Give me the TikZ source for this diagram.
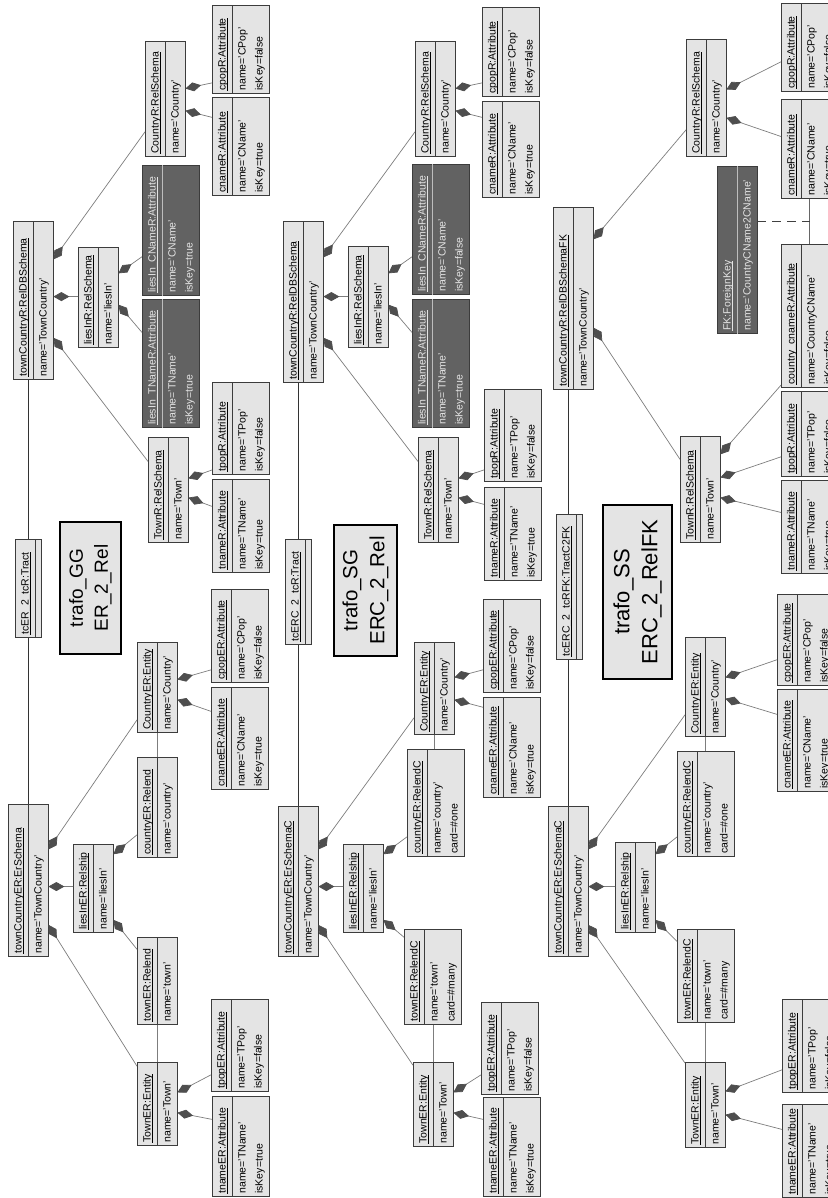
\documentclass[tikz,border=0pt]{standalone}
\usepackage{fontspec}
\setmainfont{Liberation Sans}
\usetikzlibrary{arrows.meta,calc,shapes.multipart}
\definecolor{objfill}{RGB}{228,228,228}
\definecolor{objline}{RGB}{60,60,60}
\definecolor{linkgray}{RGB}{125,125,125}
\definecolor{diagray}{RGB}{78,78,78}
\definecolor{keyfill}{RGB}{98,98,98}
\definecolor{keytext}{RGB}{228,228,228}
\newcommand\objfont{\fontsize{10.5pt}{17pt}\selectfont}
\newcommand\hd[1]{\strut\underline{\smash{#1}}}
\newcommand\av[1]{\strut#1}
\tikzset{
  obj/.style={draw=objline, fill=objfill, line width=0.8pt, rectangle split, rectangle split parts=2,
    rectangle split part align=left, align=left, inner xsep=3pt, inner ysep=1pt, font=\objfont,
    anchor=north west},
  keyobj/.style={obj, fill=keyfill, text=keytext, rectangle split draw splits=false},
  keysplit/.style={draw=keytext!70!keyfill, line width=0.8pt},
  trafo/.style={draw=black, fill=objfill, line width=2pt, align=center, anchor=north west, inner sep=0pt},
  comp/.style={draw=linkgray, line width=0.7pt, {Diamond[length=16pt,width=9pt,color=diagray]}-},
  link/.style={draw=linkgray, line width=0.7pt},
  tractline/.style={draw=black!80, line width=0.9pt},
  fkline/.style={draw=black!75, line width=0.8pt, dash pattern=on 9pt off 6pt}
}

\begin{document}
\begin{tikzpicture}[x=1pt,y=1pt]
\useasboundingbox (0,0) rectangle (827,1198);
\begin{scope}[rotate=90, transform shape]
    % trafo_GG
    \node[obj, minimum width=152pt] (erGG) at (241,-8) {\hd{townCountryER:ErSchema}\nodepart{two}\av{name='TownCountry'}};
    \node[obj, minimum width=88pt] (liesGG) at (265,-73) {\hd{liesInER:Relship}\nodepart{two}\av{name='liesIn'}};
    \node[obj, minimum width=100pt] (crelGG) at (340,-137) {\hd{countryER:Relend}\nodepart{two}\av{name='country'}};
    \node[obj, minimum width=87pt] (trelGG) at (173,-137) {\hd{townER:Relend}\nodepart{two}\av{name='town'}};
    \node[obj, minimum width=83pt] (tentGG) at (52,-137) {\hd{TownER:Entity}\nodepart{two}\av{name='Town'}};
    \node[obj, minimum width=90pt] (centGG) at (465,-137) {\hd{CountryER:Entity}\nodepart{two}\av{name='Country'}};
    \node[obj, minimum width=100pt] (tnameerGG) at (1,-212) {\hd{tnameER:Attribute}\nodepart{two}\av{name='TName'}\\\av{isKey=true}};
    \node[obj, minimum width=92pt] (tpoperGG) at (106,-211) {\hd{tpopER:Attribute}\nodepart{two}\av{name='TPop'}\\\av{isKey=false}};
    \node[obj, minimum width=102pt] (cnameerGG) at (408,-211) {\hd{cnameER:Attribute}\nodepart{two}\av{name='CName'}\\\av{isKey=true}};
    \node[obj, minimum width=93pt] (cpoperGG) at (515,-211) {\hd{cpopER:Attribute}\nodepart{two}\av{name='CPop'}\\\av{isKey=false}};
    \node[obj, minimum width=98pt] (tractGG) at (560,-15) {\hd{tcER\_2\_tcR:Tract}\nodepart{two}\rule{0pt}{3pt}};
    \node[trafo, minimum width=132pt, minimum height=61pt, font=\fontsize{19pt}{25pt}\selectfont] (titleGG) at (543,-59) {trafo\_GG\\ER\_2\_Rel};
    \node[obj, minimum width=158pt] (relGG) at (818,-13) {\hd{townCountryR:RelDBSchema}\nodepart{two}\av{name='TownCountry'}};
    \node[obj, minimum width=100pt] (liesrGG) at (850,-78) {\hd{liesInR:RelSchema}\nodepart{two}\av{name='liesIn'}};
    \node[keyobj, minimum width=128pt] (tnkGG) at (770,-142) {\hd{liesIn\_TNameR:Attribute}\nodepart{two}\av{name='TName'}\\\av{isKey=true}};
    \node[keyobj, minimum width=130pt] (cnkGG) at (902,-142) {\hd{liesIn\_CNameR:Attribute}\nodepart{two}\av{name='CName'}\\\av{isKey=true}};
    \node[obj, minimum width=115pt] (crsGG) at (1041,-145) {\hd{CountryR:RelSchema}\nodepart{two}\av{name='Country'}};
    \node[obj, minimum width=105pt] (trsGG) at (655,-148) {\hd{TownR:RelSchema}\nodepart{two}\av{name='Town'}};
    \node[obj, minimum width=93pt] (tnamerGG) at (625,-212) {\hd{tnameR:Attribute}\nodepart{two}\av{name='TName'}\\\av{isKey=true}};
    \node[obj, minimum width=92pt] (tpoprGG) at (723,-212) {\hd{tpopR:Attribute}\nodepart{two}\av{name='TPop'}\\\av{isKey=false}};
    \node[obj, minimum width=98pt] (cnamerGG) at (1002,-212) {\hd{cnameR:Attribute}\nodepart{two}\av{name='CName'}\\\av{isKey=true}};
    \node[obj, minimum width=88pt] (cpoprGG) at (1104,-212) {\hd{cpopR:Attribute}\nodepart{two}\av{name='CPop'}\\\av{isKey=false}};

    % trafo_SG
    \node[obj, minimum width=150pt] (erSG) at (241,-278) {\hd{townCountryER:ErSchemaC}\nodepart{two}\av{name='TownCountry'}};
    \node[obj, minimum width=88pt] (liesSG) at (265,-343) {\hd{liesInER:Relship}\nodepart{two}\av{name='liesIn'}};
    \node[obj, minimum width=107pt] (crelSG) at (341,-407) {\hd{countryER:RelendC}\nodepart{two}\av{name='country'}\\\av{card=\#one}};
    \node[obj, minimum width=95pt] (trelSG) at (173,-404) {\hd{townER:RelendC}\nodepart{two}\av{name='town'}\\\av{card=\#many}};
    \node[obj, minimum width=84pt] (tentSG) at (51,-413) {\hd{TownER:Entity}\nodepart{two}\av{name='Town'}};
    \node[obj, minimum width=92pt] (centSG) at (463,-414) {\hd{CountryER:Entity}\nodepart{two}\av{name='Country'}};
    \node[obj, minimum width=99pt] (tnameerSG) at (1,-483) {\hd{tnameER:Attribute}\nodepart{two}\av{name='TName'}\\\av{isKey=true}};
    \node[obj, minimum width=92pt] (tpoperSG) at (103,-481) {\hd{tpopER:Attribute}\nodepart{two}\av{name='TPop'}\\\av{isKey=false}};
    \node[obj, minimum width=100pt] (cnameerSG) at (400,-483) {\hd{cnameER:Attribute}\nodepart{two}\av{name='CName'}\\\av{isKey=true}};
    \node[obj, minimum width=93pt] (cpoperSG) at (505,-483) {\hd{cpopER:Attribute}\nodepart{two}\av{name='CPop'}\\\av{isKey=false}};
    \node[obj, minimum width=105pt] (tractSG) at (553,-285) {\hd{tcERC\_2\_tcR:Tract}\nodepart{two}\rule{0pt}{3pt}};
    \node[trafo, minimum width=131pt, minimum height=63pt, font=\fontsize{20.5pt}{27pt}\selectfont] (titleSG) at (541,-333) {trafo\_SG\\ERC\_2\_Rel};
    \node[obj, minimum width=161pt] (relSG) at (815,-283) {\hd{townCountryR:RelDBSchema}\nodepart{two}\av{name='TownCountry'}};
    \node[obj, minimum width=101pt] (liesrSG) at (850,-348) {\hd{liesInR:RelSchema}\nodepart{two}\av{name='liesIn'}};
    \node[keyobj, minimum width=128pt] (tnkSG) at (770,-412) {\hd{liesIn\_TNameR:Attribute}\nodepart{two}\av{name='TName'}\\\av{isKey=true}};
    \node[keyobj, minimum width=130pt] (cnkSG) at (903,-412) {\hd{liesIn\_CNameR:Attribute}\nodepart{two}\av{name='CName'}\\\av{isKey=false}};
    \node[obj, minimum width=115pt] (crsSG) at (1041,-415) {\hd{CountryR:RelSchema}\nodepart{two}\av{name='Country'}};
    \node[obj, minimum width=105pt] (trsSG) at (655,-418) {\hd{TownR:RelSchema}\nodepart{two}\av{name='Town'}};
    \node[obj, minimum width=93pt] (tnamerSG) at (617,-484) {\hd{tnameR:Attribute}\nodepart{two}\av{name='TName'}\\\av{isKey=true}};
    \node[obj, minimum width=92pt] (tpoprSG) at (716,-484) {\hd{tpopR:Attribute}\nodepart{two}\av{name='TPop'}\\\av{isKey=false}};
    \node[obj, minimum width=96pt] (cnamerSG) at (1000,-482) {\hd{cnameR:Attribute}\nodepart{two}\av{name='CName'}\\\av{isKey=true}};
    \node[obj, minimum width=89pt] (cpoprSG) at (1101,-482) {\hd{cpopR:Attribute}\nodepart{two}\av{name='CPop'}\\\av{isKey=false}};

    % trafo_SS
    \node[obj, minimum width=150pt] (erSS) at (241,-548) {\hd{townCountryER:ErSchemaC}\nodepart{two}\av{name='TownCountry'}};
    \node[obj, minimum width=90pt] (liesSS) at (265,-615) {\hd{liesInER:Relship}\nodepart{two}\av{name='liesIn'}};
    \node[obj, minimum width=105pt] (crelSS) at (341,-677) {\hd{countryER:RelendC}\nodepart{two}\av{name='country'}\\\av{card=\#one}};
    \node[obj, minimum width=93pt] (trelSS) at (175,-677) {\hd{townER:RelendC}\nodepart{two}\av{name='town'}\\\av{card=\#many}};
    \node[obj, minimum width=85pt] (tentSS) at (50,-685) {\hd{TownER:Entity}\nodepart{two}\av{name='Town'}};
    \node[obj, minimum width=99pt] (centSS) at (461,-685) {\hd{CountryER:Entity}\nodepart{two}\av{name='Country'}};
    \node[obj, minimum width=93pt] (tnameerSS) at (0,-782) {\hd{tnameER:Attribute}\nodepart{two}\av{name='TName'}\\\av{isKey=true}};
    \node[obj, minimum width=93pt] (tpoperSS) at (105,-782) {\hd{tpopER:Attribute}\nodepart{two}\av{name='TPop'}\\\av{isKey=false}};
    \node[obj, minimum width=102pt] (cnameerSS) at (406,-777) {\hd{cnameER:Attribute}\nodepart{two}\av{name='CName'}\\\av{isKey=true}};
    \node[obj, minimum width=91pt] (cpoperSS) at (512,-777) {\hd{cpopER:Attribute}\nodepart{two}\av{name='CPop'}\\\av{isKey=false}};
    \node[obj, minimum width=145pt] (tractSS) at (538,-556) {\hd{tcERC\_2\_tcRFK:TractC2FK}\nodepart{two}\rule{0pt}{3pt}};
    \node[trafo, minimum width=174pt, minimum height=69pt, font=\fontsize{22pt}{28pt}\selectfont] (titleSS) at (518,-602) {trafo\_SS\\ERC\_2\_RelFK};
    \node[obj, minimum width=182pt] (relSS) at (808,-553) {\hd{townCountryR:RelDBSchemaFK}\nodepart{two}\av{name='TownCountry'}};
    \node[obj, minimum width=117pt] (crsSS) at (1041,-686) {\hd{CountryR:RelSchema}\nodepart{two}\av{name='Country'}};
    \node[obj, minimum width=106pt] (trsSS) at (655,-680) {\hd{TownR:RelSchema}\nodepart{two}\av{name='Town'}};
    \node[obj, minimum width=99pt] (cnamerSS) at (999,-781) {\hd{cnameR:Attribute}\nodepart{two}\av{name='CName'}\\\av{isKey=true}};
    \node[obj, minimum width=88pt] (cpoprSS) at (1106,-781) {\hd{cpopR:Attribute}\nodepart{two}\av{name='CPop'}\\\av{isKey=false}};
    \node[obj, minimum width=93pt] (tnamerSS) at (624,-781) {\hd{tnameR:Attribute}\nodepart{two}\av{name='TName'}\\\av{isKey=true}};
    \node[obj, minimum width=85pt] (tpoprSS) at (721,-781) {\hd{tpopR:Attribute}\nodepart{two}\av{name='TPop'}\\\av{isKey=false}};
    \node[obj, minimum width=143pt] (cckSS) at (810,-781) {\hd{country\_cnameR:Attribute}\nodepart{two}\av{name='CountryCName'}\\\av{isKey=false}};
    \node[keyobj, minimum width=167pt] (fkSS) at (864,-717) {\hd{FK:ForeignKey}\nodepart{two}\av{name='CountryCName2CName'}};

    \foreach \k in {tnkGG,cnkGG,tnkSG,cnkSG,fkSS}
        \draw[keysplit] (\k.text split west) -- (\k.text split east);

    % compositions
    \foreach \pa/\fa/\ch/\fb in {erGG/.704/centGG/.144, erGG/.461/liesGG/.523, erGG/.211/tentGG/.952,
        liesGG/.886/crelGG/.23, liesGG/.148/trelGG/.862, tentGG/.398/tnameerGG/.77, tentGG/.639/tpoperGG/.185,
        centGG/.367/cnameerGG/.765, centGG/.589/cpoperGG/.14, relGG/.759/crsGG/.217, relGG/.525/liesrGG/.51,
        relGG/.266/trsGG/.771, liesrGG/.74/cnkGG/.30, liesrGG/.43/tnkGG/.742, crsGG/.40/cnamerGG/.796,
        crsGG/.591/cpoprGG/.125, trsGG/.429/tnamerGG/.71, trsGG/.61/tpoprGG/.054,
        erSG/.713/centSG/.185, erSG/.467/liesSG/.523, erSG/.213/tentSG/.964,
        liesSG/.886/crelSG/.187, liesSG/.148/trelSG/.916, tentSG/.405/tnameerSG/.778, tentSG/.643/tpoperSG/.217,
        centSG/.38/cnameerSG/.90, centSG/.62/cpoperSG/.247, relSG/.776/crsSG/.217, relSG/.534/liesrSG/.505,
        relSG/.28/trsSG/.771, liesrSG/.733/cnkSG/.292, liesrSG/.426/tnkSG/.742, crsSG/.40/cnamerSG/.833,
        crsSG/.591/cpoprSG/.157, trsSG/.429/tnamerSG/.817, trsSG/.61/tpoprSG/.13,
        erSS/.713/centSS/.222, erSS/.467/liesSS/.511, erSS/.213/tentSS/.99,
        liesSS/.867/crelSS/.19, liesSS/.144/trelSS/.87, tentSS/.388/tnameerSS/.731, tentSS/.659/tpoperSS/.247,
        centSS/.384/cnameerSS/.755, centSS/.596/cpoperSS/.286, relSS/.824/crsSS/.23, relSS/.341/trsSS/.783,
        trsSS/.83/cckSS/.02, trsSS/.613/tpoprSS/.235, trsSS/.425/tnamerSS/.656,
        crsSS/.333/cnamerSS/.626, crsSS/.573/cpoprSS/.34}
        \draw[comp] ($(\pa.south west)!\fa!(\pa.south east)$) -- ($(\ch.north west)!\fb!(\ch.north east)$);

    % relends, tracts, foreign key
    \foreach \b in {GG,SG,SS} {
        \draw[link] (tent\b.east) -- (trel\b.west |- tent\b.east);
        \draw[link] (crel\b.east |- cent\b.west) -- (cent\b.west);
        \draw[tractline] (er\b.east) -- (tract\b.west |- er\b.east)
            (tract\b.east |- er\b.east) -- (rel\b.west |- er\b.east);
    }
    \draw[link, draw=black!60] (cckSS.east) -- (cnamerSS.west |- cckSS.east);
    \coordinate (fkmid) at ($(cckSS.east)!.5!(cnamerSS.west |- cckSS.east)$);
    \draw[fkline] (fkmid |- fkSS.south) -- (fkmid);
\end{scope}
\end{tikzpicture}
\end{document}
